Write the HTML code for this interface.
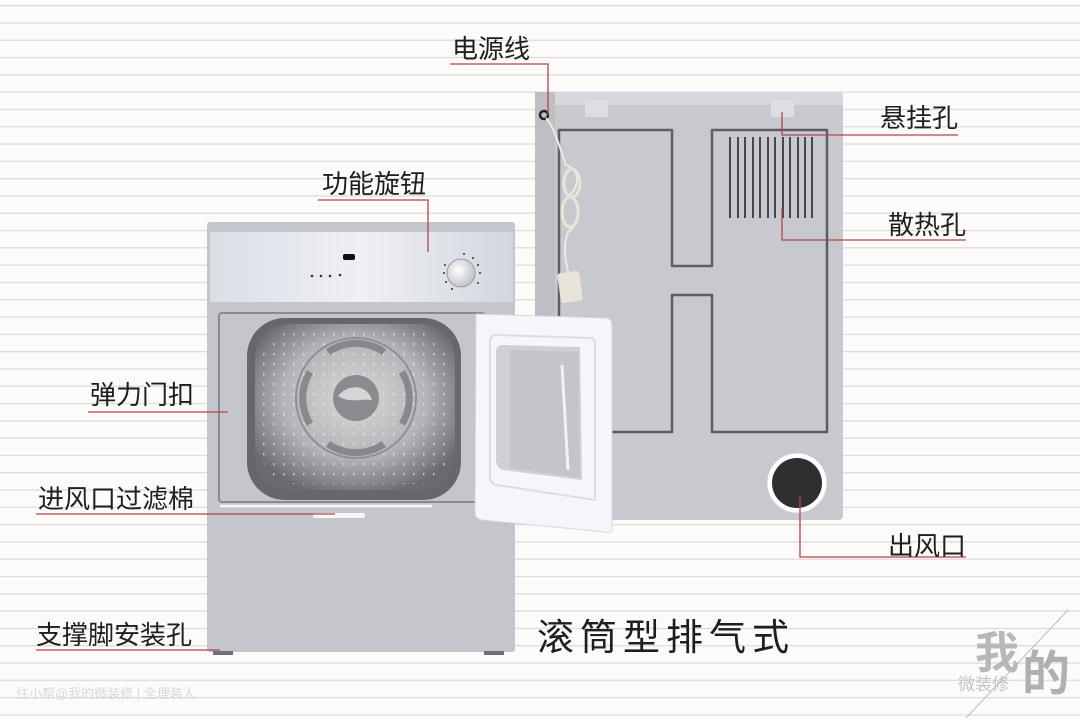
<!DOCTYPE html>
<html><head><meta charset="utf-8"><style>
html,body{margin:0;padding:0;background:#fcfbfa}
svg{display:block}
text{font-family:"Liberation Sans","Noto Sans CJK SC",sans-serif;fill:#1e1e1e}
</style></head><body>
<svg width="1080" height="720" viewBox="0 0 1080 720" xmlns="http://www.w3.org/2000/svg">
<defs>
<pattern id="lines" width="1080" height="17.3" patternUnits="userSpaceOnUse" y="5">
<rect width="1080" height="1.3" fill="#dcdcdc"/>
</pattern>
<linearGradient id="top" x1="0" y1="0" x2="1" y2="0">
<stop offset="0" stop-color="#dcdee6"/><stop offset="0.5" stop-color="#eef0f6"/><stop offset="1" stop-color="#d4d6de"/>
</linearGradient>
<radialGradient id="drum" cx="0.5" cy="0.45" r="0.6">
<stop offset="0" stop-color="#d8d8da"/><stop offset="0.6" stop-color="#b4b4b8"/><stop offset="1" stop-color="#6a6a70"/>
</radialGradient>
<radialGradient id="knob" cx="0.4" cy="0.4" r="0.7">
<stop offset="0" stop-color="#ffffff"/><stop offset="1" stop-color="#b8bac2"/>
</radialGradient>
<pattern id="holes" width="10" height="10" patternUnits="userSpaceOnUse">
<rect x="3" y="3" width="1.5" height="2.5" fill="#f4f4f6"/>
</pattern>
</defs>
<rect width="1080" height="720" fill="#fcfbfa"/>
<rect width="1080" height="720" fill="url(#lines)"/>

<!-- back panel -->
<rect x="535" y="92" width="308" height="428" rx="4" fill="#c8c9ce"/>
<rect x="535" y="92" width="308" height="13" fill="#d6d8de"/>
<rect x="535" y="92" width="20" height="428" fill="#bdbfc4"/>
<rect x="585" y="100" width="23" height="17" fill="#dcdee4"/>
<rect x="771" y="100" width="23" height="17" fill="#dcdee4"/>
<path d="M559,130 H672 V266 H712 V130 H827 V432 H712 V295 H672 V432 H559 Z" fill="none" stroke="#5c5e64" stroke-width="2.5" stroke-linejoin="round"/>
<g stroke="#45474c" stroke-width="2">
<line x1="730" y1="137" x2="730" y2="218"/><line x1="738" y1="137" x2="738" y2="218"/><line x1="745" y1="137" x2="745" y2="218"/><line x1="753" y1="137" x2="753" y2="218"/><line x1="760" y1="137" x2="760" y2="218"/><line x1="768" y1="137" x2="768" y2="218"/><line x1="775" y1="137" x2="775" y2="218"/><line x1="783" y1="137" x2="783" y2="218"/><line x1="790" y1="137" x2="790" y2="218"/><line x1="798" y1="137" x2="798" y2="218"/><line x1="805" y1="137" x2="805" y2="218"/><line x1="812" y1="137" x2="812" y2="218"/>
</g>
<circle cx="797" cy="483" r="30" fill="#fff" stroke="#d0d0d4"/>
<circle cx="797" cy="483" r="25" fill="#2e2f31"/>
<circle cx="544" cy="115" r="4" fill="none" stroke="#222" stroke-width="2.5"/>
<path d="M546,118 C556,130 560,150 566,165 C580,170 580,185 570,195 C585,205 578,225 568,232 C562,250 566,260 568,272" fill="none" stroke="#eeeadf" stroke-width="2"/>
<ellipse cx="572" cy="183" rx="8" ry="14" fill="none" stroke="#e8e4d8" stroke-width="3"/>
<ellipse cx="570" cy="212" rx="8" ry="15" fill="none" stroke="#e8e4d8" stroke-width="3"/>
<rect x="559" y="272" width="22" height="30" rx="3" fill="#e8e4da" transform="rotate(-8 570 287)"/>

<!-- front machine -->
<rect x="207" y="222" width="308" height="430" rx="3" fill="#c5c6cc"/>
<rect x="210" y="232" width="303" height="70" fill="url(#top)"/>
<rect x="343" y="254" width="12" height="6" rx="2" fill="#111"/>
<g fill="#333"><circle cx="312" cy="276" r="1.3"/><circle cx="321" cy="276" r="1.3"/><circle cx="330" cy="276" r="1.3"/><circle cx="340" cy="275" r="1.3"/></g>
<circle cx="461" cy="273" r="14" fill="url(#knob)" stroke="#9a9ca4"/>
<g fill="#333"><circle cx="445" cy="265" r="1"/><circle cx="444" cy="273" r="1"/><circle cx="446" cy="282" r="1"/><circle cx="452" cy="289" r="1"/><circle cx="473" cy="258" r="1"/><circle cx="478" cy="265" r="1"/><circle cx="480" cy="273" r="1"/><circle cx="478" cy="283" r="1"/><circle cx="464" cy="254" r="1"/></g>
<rect x="219" y="313" width="266" height="189" rx="3" fill="none" stroke="#8a8b90" stroke-width="2"/>
<rect x="247" y="318" width="214" height="182" rx="38" fill="#66676c"/>
<rect x="255" y="324" width="200" height="166" rx="34" fill="url(#drum)"/>
<rect x="262" y="332" width="186" height="152" rx="30" fill="url(#holes)" opacity="0.6"/>
<circle cx="356" cy="398" r="60" fill="none" stroke="#8f9094" stroke-width="2"/>
<g fill="none" stroke="#7b7c80" stroke-width="7" opacity="0.8">
<path d="M328,352 A50,50 0 0 1 384,352"/><path d="M402,372 A50,50 0 0 1 402,424"/><path d="M384,444 A50,50 0 0 1 328,444"/><path d="M310,424 A50,50 0 0 1 310,372"/>
</g>
<circle cx="356" cy="398" r="23" fill="#8a8b8f"/>
<path d="M338,396 C350,382 368,386 372,400 C362,398 350,404 338,396 Z" fill="#d6d6d8"/>
<line x1="220" y1="506" x2="432" y2="506" stroke="#f6f6f8" stroke-width="2.5"/>
<rect x="313" y="513" width="52" height="5" rx="2" fill="#f6f6f8"/>
<rect x="213" y="651" width="20" height="4" fill="#6e6f74"/>
<rect x="484" y="651" width="20" height="4" fill="#6e6f74"/>

<!-- door -->
<path d="M476,314 L605,318 Q612,318 612,326 L612,528 Q612,534 605,532 L482,520 Q475,519 475,512 Z" fill="#f6f6fa" stroke="#d6d6de"/>
<path d="M497,335 L590,338 Q595,338 595,344 L595,500 L497,485 Q490,484 490,477 L490,342 Q490,335 497,335 Z" fill="none" stroke="#dcdce4" stroke-width="2"/>
<path d="M503,345 L580,347 L582,480 L503,470 Q496,468 496,460 L496,352 Q496,345 503,345 Z" fill="#cfd0d6"/>
<path d="M510,350 L578,352 L580,478 L510,468 Z" fill="#c4c5cb"/>
<line x1="562" y1="365" x2="568" y2="470" stroke="#f2f2f4" stroke-width="3"/>

<!-- labels -->
<g fill="none" stroke="#b5434b" stroke-width="1.3">
<polyline points="450,64 548,64 548,115"/>
<polyline points="318,200 428,200 428,252"/>
<polyline points="958,135 782,135 782,112"/>
<polyline points="966,240 782,240 782,208"/>
<polyline points="88,412 228,412"/>
<polyline points="36,514 335,514"/>
<polyline points="36,650 220,650"/>
<polyline points="966,557 800,557 800,495"/>
</g>
<g font-size="26">
<text x="452" y="58">电源线</text>
<text x="322" y="193">功能旋钮</text>
<text x="880" y="127">悬挂孔</text>
<text x="888" y="234">散热孔</text>
<text x="90" y="404">弹力门扣</text>
<text x="38" y="508">进风口过滤棉</text>
<text x="36" y="644">支撑脚安装孔</text>
<text x="888" y="555">出风口</text>
</g>
<text x="537" y="650" font-size="37" letter-spacing="6">滚筒型排气式</text>
<text x="16" y="698" font-size="13" style="fill:#d8d8d8">住小帮@我的微装修 | 全理装人</text>
<text x="975" y="668" font-size="44" font-weight="bold" style="fill:#b8b8b8">我</text>
<text x="1022" y="690" font-size="48" font-weight="bold" style="fill:#b0b0b0">的</text>
<text x="958" y="690" font-size="17" style="fill:#c4c4c4">微装修</text>
<line x1="966" y1="718" x2="1068" y2="610" stroke="#bbb" stroke-width="1"/>
</svg>
</body></html>
